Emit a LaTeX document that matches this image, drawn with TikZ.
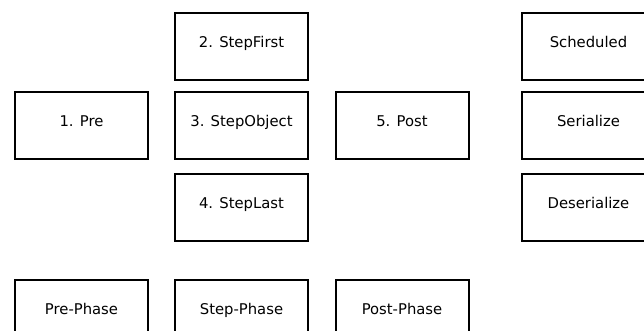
\documentclass[tikz,border=0pt]{standalone}
\usepackage{fontspec}
\setmainfont{DejaVu Sans}
\usepackage{tikz}
\tikzstyle{phasebox} = [draw,line width=2pt,minimum width=133pt,minimum height=67pt,inner sep=0pt,text height=0.75em,text depth=0.5em,font=\fontsize{14.8}{17}\selectfont]

\begin{document}
\begin{tikzpicture}[x=1pt,y=-1pt]
            \useasboundingbox (0,0) rectangle (644,331);
            \clip (0,0) rectangle (644,331);

            \node[phasebox] (pre) at (81.5,125.5) {1. Pre};
            \node[phasebox] (stepfirst) at (241.5,46.5) {2. StepFirst};
            \node[phasebox] (stepobject) at (241.5,125.5) {3. StepObject};
            \node[phasebox] (steplast) at (241.5,207) {4. StepLast};
            \node[phasebox] (post) at (402,125.5) {5. Post};

            \node[phasebox] (scheduled) at (588.5,46.5) {Scheduled};
            \node[phasebox] (serialize) at (588.5,125.5) {Serialize};
            \node[phasebox] (deserialize) at (588.5,207) {Deserialize};

            \node[phasebox] (prephase) at (81.5,313) {Pre-Phase};
            \node[phasebox] (stepphase) at (241.5,313) {Step-Phase};
            \node[phasebox] (postphase) at (402,313) {Post-Phase};
        \end{tikzpicture}
\end{document}
